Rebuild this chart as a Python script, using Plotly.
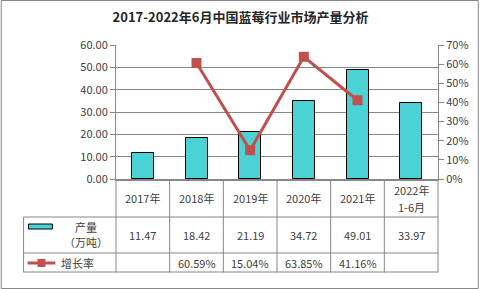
import plotly.graph_objects as go

categories = ["2017年", "2018年", "2019年", "2020年", "2021年", "2022年1-6月"]
header_line1 = ["2017年", "2018年", "2019年", "2020年", "2021年", "2022年"]
header_line2 = ["", "", "", "", "", "1-6月"]
production = [11.47, 18.42, 21.19, 34.72, 49.01, 33.97]
growth = [None, 0.6059, 0.1504, 0.6385, 0.4116, None]
title_text = "2017-2022年6月中国蓝莓行业市场产量分析"

W, H = 481, 289
ML, MR, MT, MB = 116, 41, 45, 110
PW = W - ML - MR
PH = H - MT - MB

def px(x):
    return (x - ML) / PW

def py(y):
    return (MT + PH - y) / PH

BAR = "rgb(75,210,212)"
LINE = "#C0504D"
GRID = "#878787"
TXT = "#404040"
FONT = "Noto Sans CJK SC"

fig = go.Figure()
fig.add_trace(go.Bar(x=categories, y=production, width=0.41,
                     marker=dict(color=BAR, line=dict(color="black", width=1)),
                     name="产量（万吨）", yaxis="y"))
fig.add_trace(go.Scatter(x=categories, y=growth, mode="lines+markers",
                         line=dict(color=LINE, width=3),
                         marker=dict(symbol="square", size=10, color=LINE),
                         name="增长率", yaxis="y2", connectgaps=False))

shapes = []
def hline(y, x0, x1, w=1):
    shapes.append(dict(type="line", xref="paper", yref="paper",
                       x0=px(x0), x1=px(x1), y0=py(y), y1=py(y),
                       line=dict(color=GRID, width=w)))
def vline(x, y0, y1, w=1):
    shapes.append(dict(type="line", xref="paper", yref="paper",
                       x0=px(x), x1=px(x), y0=py(y0), y1=py(y1),
                       line=dict(color=GRID, width=w)))

# table grid
for i in range(len(categories) + 1):
    vline(ML + i * PW / len(categories), 179, 272.5)
vline(23, 217, 272.5)
for y in (217, 253, 272):
    hline(y, 23, 440)

# outer chart border
shapes.append(dict(type="rect", xref="paper", yref="paper",
                   x0=px(0.5), x1=px(480.5), y0=py(0.5), y1=py(288.5),
                   line=dict(color="#868686", width=1)))

# legend keys in table
shapes.append(dict(type="rect", xref="paper", yref="paper",
                   x0=px(28), x1=px(52), y0=py(229), y1=py(224),
                   fillcolor=BAR, line=dict(color="black", width=1)))
shapes.append(dict(type="line", xref="paper", yref="paper",
                   x0=px(27), x1=px(55), y0=py(263), y1=py(263),
                   line=dict(color=LINE, width=3)))
shapes.append(dict(type="rect", xref="paper", yref="paper",
                   x0=px(37), x1=px(45), y0=py(267), y1=py(259),
                   fillcolor=LINE, line=dict(color=LINE, width=0)))

annotations = []
fs = 11
def ann(x, xref, y, text, xanchor="center"):
    annotations.append(dict(x=x, xref=xref, y=py(y), yref="paper", text=text,
                            showarrow=False, font=dict(size=fs, color=TXT, family=FONT),
                            xanchor=xanchor, yanchor="middle"))

for c, h1, h2, p, g in zip(categories, header_line1, header_line2, production, growth):
    if h2:
        ann(c, "x", 190, h1)
        ann(c, "x", 207, h2)
    else:
        ann(c, "x", 198, h1)
    ann(c, "x", 235, f"{p:.2f}")
    if g is not None:
        ann(c, "x", 262.5, f"{g*100:.2f}%")
ann(px(86), "paper", 227, "产量")
ann(px(86), "paper", 242, "（万吨）")
ann(px(59), "paper", 262.5, "增长率", xanchor="left")

fig.update_layout(
    width=W, height=H,
    margin=dict(l=ML, r=MR, t=MT, b=MB),
    paper_bgcolor="white", plot_bgcolor="white",
    showlegend=False,
    bargap=0,
    title=dict(text=f"<b>{title_text}</b>", x=0.5, xanchor="center",
               y=1 - 17 / H, yanchor="middle", yref="container",
               font=dict(size=13, color="#262626", family=FONT)),
    font=dict(family=FONT, size=fs, color=TXT),
    xaxis=dict(type="category", showticklabels=False, ticks="",
               showline=True, linecolor=GRID, linewidth=2, showgrid=False,
               range=[-0.5, 5.5], fixedrange=True),
    yaxis=dict(range=[0, 60], dtick=10, tickformat=".2f", ticks="outside",
               ticklen=5, tickcolor=GRID, showline=True, linecolor=GRID,
               linewidth=1, gridcolor=GRID, gridwidth=1, zeroline=False,
               tickfont=dict(size=fs, color=TXT, family=FONT)),
    yaxis2=dict(range=[0, 0.7], dtick=0.1, tickformat=".0%", ticks="outside",
                ticklen=5, tickcolor=GRID, showline=True, linecolor=GRID,
                linewidth=1, showgrid=False, zeroline=False, overlaying="y",
                side="right", tickfont=dict(size=fs, color=TXT, family=FONT)),
    shapes=shapes,
    annotations=annotations,
)

fig.write_html("out.html")
